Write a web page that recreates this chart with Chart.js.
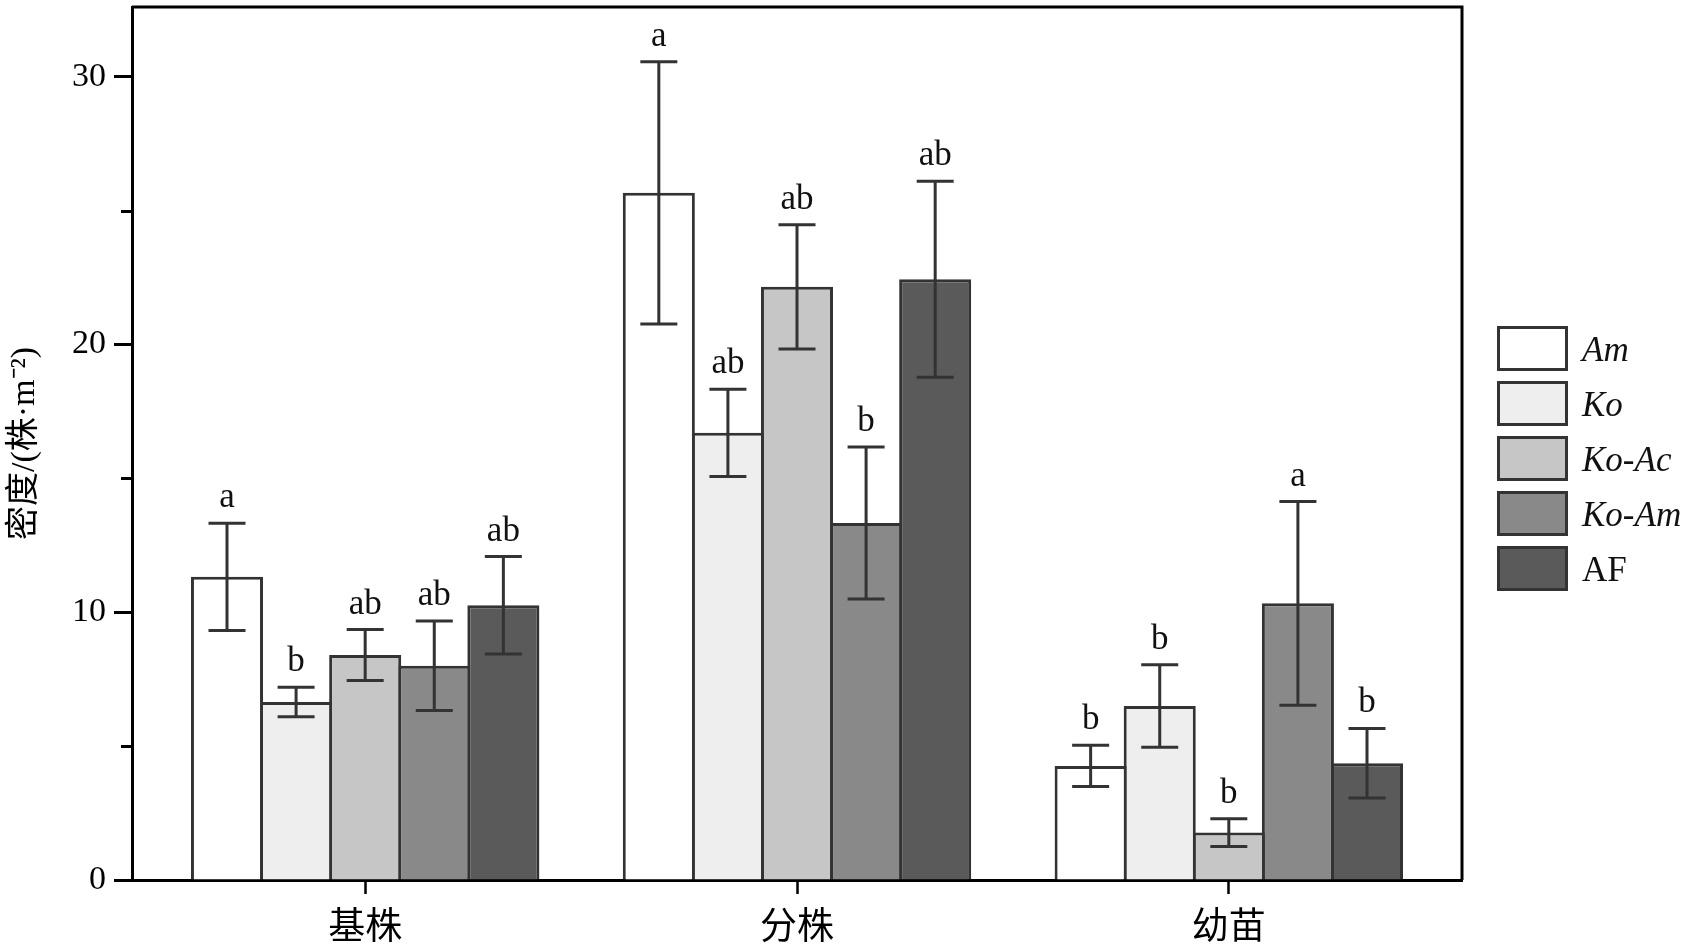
<!DOCTYPE html>
<html><head><meta charset="utf-8">
<script src="https://cdn.jsdelivr.net/npm/chart.js@4.4.1/dist/chart.umd.min.js"></script>
<style>html,body{margin:0;padding:0;background:#fff;}#wrap{width:1689px;height:948px;}</style>
</head><body><div id="wrap"><canvas id="c" width="1689" height="948"></canvas></div>
<script>
// ---- data ----
const categories = ['基株', '分株', '幼苗'];
const seriesNames = ['Am', 'Ko', 'Ko-Ac', 'Ko-Am', 'AF'];
const seriesItalic = [true, true, true, true, false];
const amValues   = [11.32, 25.66, 4.26];
const koValues   = [6.65, 16.70, 6.50];
const koAcValues = [8.40, 22.15, 1.77];
const koAmValues = [8.00, 13.33, 10.33];
const afValues   = [10.26, 22.43, 4.36];
const amErr   = [2.00, 4.90, 0.77];
const koErr   = [0.55, 1.63, 1.54];
const koAcErr = [0.95, 2.32, 0.52];
const koAmErr = [1.67, 2.84, 3.80];
const afErr   = [1.82, 3.66, 1.30];
const amLetters   = ['a', 'a', 'b'];
const koLetters   = ['b', 'ab', 'b'];
const koAcLetters = ['ab', 'ab', 'b'];
const koAmLetters = ['ab', 'b', 'a'];
const afLetters   = ['ab', 'ab', 'b'];
const yMajorTicks = [0, 10, 20, 30];
const yMinorTicks = [5, 15, 25];
const yMax = 32.6;
const xMin = -0.54;
const xMax = 2.54;
const yTitle = '密度/(株·m⁻²)';

// ---- styles ----
const fills = ['#ffffff', '#eeeeee', '#c6c6c6', '#898989', '#5a5a5a'];
const edge = '#333333';
const serif = '"Liberation Serif", "Times New Roman", "Noto Sans CJK SC", serif';
const cjk = '"Noto Sans CJK SC", sans-serif';

const allValues = [amValues, koValues, koAcValues, koAmValues, afValues];
const allErr = [amErr, koErr, koAcErr, koAmErr, afErr];
const allLetters = [amLetters, koLetters, koAcLetters, koAmLetters, afLetters];
const catIndex = categories.map((c, i) => i);

const datasets = seriesNames.map((n, i) => ({
  label: n,
  data: allValues[i].map((v, k) => ({ x: catIndex[k], y: v })),
  backgroundColor: fills[i],
  borderColor: edge,
  borderWidth: 3,
  borderSkipped: 'start',
  categoryPercentage: 0.80,
  barPercentage: 1.043
}));

const extras = {
  id: 'extras',
  afterDatasetsDraw(chart) {
    const ctx = chart.ctx;
    const y = chart.scales.y;
    const ca = chart.chartArea;
    ctx.save();
    chart.data.datasets.forEach((ds, di) => {
      const meta = chart.getDatasetMeta(di);
      meta.data.forEach((bar, i) => {
        const v = allValues[di][i], e = allErr[di][i];
        const yt = y.getPixelForValue(v + e), yb = y.getPixelForValue(v - e);
        const x = bar.x;
        ctx.strokeStyle = edge;
        ctx.lineWidth = 3;
        ctx.beginPath();
        ctx.moveTo(x, yt); ctx.lineTo(x, yb);
        ctx.moveTo(x - 18.5, yt); ctx.lineTo(x + 18.5, yt);
        ctx.moveTo(x - 18.5, yb); ctx.lineTo(x + 18.5, yb);
        ctx.stroke();
        ctx.fillStyle = '#111';
        ctx.font = '35px ' + serif;
        ctx.textAlign = 'center';
        ctx.textBaseline = 'alphabetic';
        ctx.fillText(allLetters[di][i], x, yt - 16);
      });
    });
    ctx.strokeStyle = '#000';
    ctx.lineWidth = 3;
    yMinorTicks.forEach(t => {
      const py = Math.round(y.getPixelForValue(t)) + 0.5;
      ctx.beginPath(); ctx.moveTo(ca.left - 11, py); ctx.lineTo(ca.left, py); ctx.stroke();
    });
    ctx.beginPath();
    ctx.moveTo(ca.left, ca.top); ctx.lineTo(ca.right, ca.top); ctx.lineTo(ca.right, ca.bottom);
    ctx.stroke();
    const bx = 1497, bw = 71, bh = 45, step = 55, by0 = 326;
    seriesNames.forEach((n, i) => {
      const by = by0 + i * step;
      ctx.fillStyle = fills[i];
      ctx.fillRect(bx, by, bw, bh);
      ctx.strokeStyle = edge; ctx.lineWidth = 3;
      ctx.strokeRect(bx + 1.5, by + 1.5, bw - 3, bh - 3);
      ctx.fillStyle = '#111';
      ctx.font = (seriesItalic[i] ? 'italic ' : '') + '35px ' + serif;
      ctx.textAlign = 'left';
      ctx.textBaseline = 'middle';
      ctx.fillText(n, 1582, by + bh / 2 + 3);
    });
    ctx.restore();
  }
};

new Chart(document.getElementById('c'), {
  type: 'bar',
  data: { datasets },
  options: {
    responsive: false,
    animation: false,
    devicePixelRatio: 1,
    layout: { padding: { top: 7, right: 227, left: 0, bottom: 0 } },
    plugins: { legend: { display: false }, tooltip: { enabled: false } },
    scales: {
      x: {
        type: 'linear',
        min: xMin, max: xMax,
        offset: false,
        afterBuildTicks(s) { s.ticks = catIndex.map(v => ({ value: v })); },
        grid: { display: true, drawOnChartArea: false, offset: false, tickLength: 14, tickWidth: 2.5, tickColor: '#000' },
        border: { display: true, width: 3, color: '#000' },
        ticks: { color: '#000', font: { family: cjk, size: 37 }, padding: 9, callback: v => categories[v] },
        afterFit(s) { s.height = 68; s.paddingLeft = 0; s.paddingRight = 0; }
      },
      y: {
        min: 0, max: yMax,
        afterBuildTicks(s) { s.ticks = yMajorTicks.map(v => ({ value: v })); },
        grid: { display: true, drawOnChartArea: false, tickLength: 18, tickWidth: 3, tickColor: '#000' },
        border: { display: true, width: 3, color: '#000' },
        ticks: { color: '#000', font: { family: serif, size: 34 }, padding: 8 },
        title: { display: true, text: yTitle, color: '#000', font: { family: serif, size: 34 }, padding: { top: 5, bottom: 0 } },
        afterFit(s) { s.width = 132; s.paddingTop = 0; s.paddingBottom = 0; }
      }
    }
  },
  plugins: [extras]
});
</script></body></html>
